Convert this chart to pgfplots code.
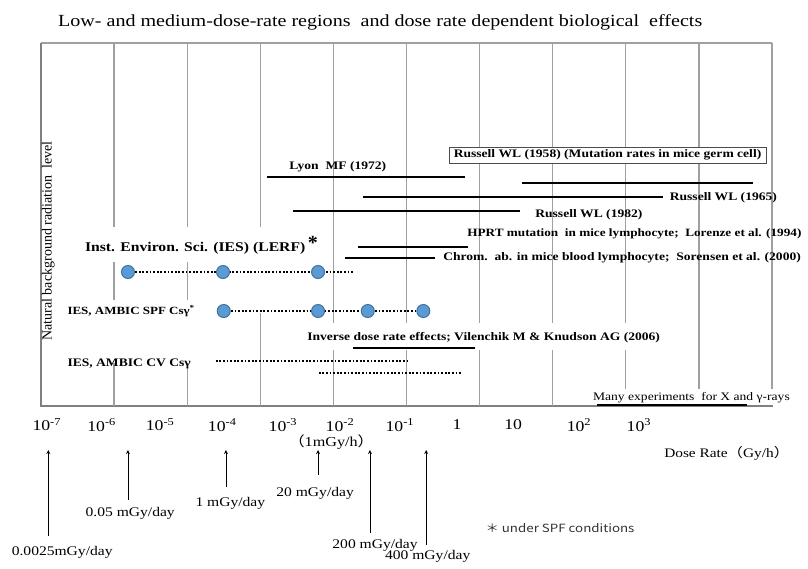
\documentclass[border=0pt]{standalone}
\usepackage{fontspec}
\setmainfont{Liberation Serif}
\newfontfamily\cjk{Noto Sans CJK JP}
\usepackage{pgfplots}
\pgfplotsset{compat=1.18}
\newcommand\fs[1]{\fontsize{#1}{#1}\selectfont}
\newcommand\sx[1]{\scalebox{1.18}[1]{#1}}
\definecolor{dotfill}{HTML}{5B9BD5}
\definecolor{dotedge}{HTML}{41719C}
\definecolor{gridc}{HTML}{A0A0A0}
\begin{document}
\begin{tikzpicture}
\begin{axis}[
  at={(41pt,-406pt)}, anchor=south west,
  width=731pt, height=363pt, scale only axis,
  xmin=-7, xmax=3, ymin=162, ymax=525,
  axis line style={draw=none},
  ytick=\empty,
  xtick={-6.92,-6.17,-5.37,-4.52,-3.69,-2.91,-2.09,-1.31,-0.54,0.36,1.18},
  xticklabels={\sx{10\textsuperscript{-7}},\sx{10\textsuperscript{-6}},\sx{10\textsuperscript{-5}},\sx{10\textsuperscript{-4}},\sx{10\textsuperscript{-3}},\sx{10\textsuperscript{-2}},\sx{10\textsuperscript{-1}},\sx{1},\sx{10},\sx{10\textsuperscript{2}},\sx{10\textsuperscript{3}}},
  major tick length=0pt,
  xticklabel style={font=\fs{15}, anchor=center, yshift=-19pt},
  clip=false,
]
% frame and grid
\draw[gridc, line width=1.3pt] (axis cs:-7,525) -- (axis cs:3,525);
\draw[gridc!80!black, line width=1.3pt] (axis cs:-7,525) -- (axis cs:-7,162) -- (axis cs:3.01,162);
\pgfplotsinvokeforeach{-6,-5}{
  \draw[gridc, line width=1.3pt] (axis cs:#1,525) -- (axis cs:#1,341);
  \draw[gridc, line width=1.3pt] (axis cs:#1,306) -- (axis cs:#1,268);
  \draw[gridc, line width=1.3pt] (axis cs:#1,205) -- (axis cs:#1,162);
}
\draw[gridc, line width=1.3pt] (axis cs:-4,525) -- (axis cs:-4,341);
\draw[gridc, line width=1.3pt] (axis cs:-4,255) -- (axis cs:-4,162);
\pgfplotsinvokeforeach{-3,-2,-1,0}{
  \draw[gridc, line width=1.3pt] (axis cs:#1,525) -- (axis cs:#1,245);
  \draw[gridc, line width=1.3pt] (axis cs:#1,218) -- (axis cs:#1,162);
}
\draw[gridc, line width=1.3pt] (axis cs:1,525) -- (axis cs:1,245);
\draw[gridc, line width=1.3pt] (axis cs:1,218) -- (axis cs:1,179);
\draw[gridc, line width=1.3pt] (axis cs:2,525) -- (axis cs:2,179);
\draw[gridc, line width=1.3pt] (axis cs:3,525) -- (axis cs:3,179);

% box label
\node[draw=black!70, fill=white, line width=0.8pt, minimum width=317pt, minimum height=16pt, inner sep=1pt, font=\fs{11.5}\bfseries] at (axis cs:0.75,413) {\sx{Russell WL (1958) (Mutation rates in mice germ cell)}};

% ranges
\addplot[black, line width=2.2pt] coordinates {(-3.91,391) (-1.20,391)};
\addplot[black, line width=2.2pt] coordinates {(-0.42,385) (2.74,385)};
\addplot[black, line width=2.2pt] coordinates {(-2.60,371) (1.51,371)};
\addplot[black, line width=2.2pt] coordinates {(-3.55,357) (-0.45,357)};
\addplot[black, line width=2.2pt] coordinates {(-2.66,321) (-1.16,321)};
\addplot[black, line width=2.2pt] coordinates {(-2.84,310) (-1.61,310)};
\addplot[black, line width=2.2pt] coordinates {(-2.73,220) (-1.06,220)};
\addplot[black, line width=2.2pt] coordinates {(0.61,163) (2.66,163)};
\addplot[black, line width=2pt, dash pattern=on 1.8pt off 1.8pt] coordinates {(-4.61,207) (-1.97,207)};
\addplot[black, line width=2pt, dash pattern=on 1.8pt off 1.8pt] coordinates {(-3.20,195) (-1.24,195)};
\addplot[black, line width=2pt, dash pattern=on 1.8pt off 1.8pt] coordinates {(-5.81,296) (-2.73,296)};
\addplot[black, line width=2pt, dash pattern=on 1.8pt off 1.8pt] coordinates {(-4.50,257) (-1.77,257)};
\addplot[only marks, mark=*, mark size=6.5pt, mark options={fill=dotfill, draw=dotedge, line width=1pt}] coordinates {(-5.81,296) (-4.51,296) (-3.21,296)};
\addplot[only marks, mark=*, mark size=6.5pt, mark options={fill=dotfill, draw=dotedge, line width=1pt}] coordinates {(-4.50,257) (-3.21,257) (-2.53,257) (-1.77,257)};

% labels
\node[font=\fs{11.5}\bfseries, inner sep=0pt] at (axis cs:-2.94,401) {\sx{Lyon\ \ MF (1972)}};
\node[font=\fs{11.5}\bfseries, inner sep=0pt, anchor=west] at (axis cs:1.60,370) {\sx{Russell WL (1965)}};
\node[font=\fs{11.5}\bfseries, inner sep=0pt, anchor=west] at (axis cs:-0.24,353) {\sx{Russell WL (1982)}};
\node[font=\fs{11.2}\bfseries, inner sep=0pt, anchor=west] at (axis cs:-1.17,334) {\sx{HPRT mutation\ \ in mice lymphocyte;\ \ Lorenze et al. (1994)}};
\node[font=\fs{11.5}\bfseries, inner sep=0pt, anchor=west] at (axis cs:-1.50,310) {\sx{Chrom.\ \ ab. in mice blood lymphocyte;\ \ Sorensen et al. (2000)}};
\node[font=\fs{13.3}\bfseries, inner sep=0pt, anchor=west] at (axis cs:-6.40,320) {\sx{Inst. Environ. Sci. (IES) (LERF)}};
\node[font=\fs{20}\bfseries, inner sep=0pt] at (axis cs:-3.28,325) {*};
\node[font=\fs{11}\bfseries, inner sep=0pt, anchor=west] at (axis cs:-6.64,257) {\sx{IES, AMBIC SPF Csγ\textsuperscript{*}}};
\node[font=\fs{11.5}\bfseries, inner sep=0pt, anchor=west] at (axis cs:-3.36,230) {\sx{Inverse dose rate effects; Vilenchik M \& Knudson AG (2006)}};
\node[font=\fs{11.5}\bfseries, inner sep=0pt, anchor=west] at (axis cs:-6.64,204) {\sx{IES, AMBIC CV Csγ}};
\node[font=\fs{11.5}, inner sep=0pt, anchor=west] at (axis cs:0.55,170) {\sx{Many experiments\ \ for X and γ-rays}};
\node[font=\fs{14}, rotate=90, inner sep=0pt] at (axis cs:-6.90,327) {Natural background radiation\ \ level};

% title and outside annotations
\node[font=\fs{17}] at (axis cs:-2.36,546) {\sx{Low- and medium-dose-rate regions\ \ and dose rate dependent biological\ \ effects}};
\node[font=\fs{13.7}] at (axis cs:-3.03,126) {\sx{{\cjk （}1mGy/h{\cjk ）}}};
\node[font=\fs{13}] at (axis cs:2.38,115) {\sx{Dose Rate{\cjk （}Gy/h{\cjk ）}}};
\node[font=\cjk\fs{11.3}, text=black!80] at (axis cs:0.10,40) {\sx{＊ under SPF conditions}};
\draw[-stealth, line width=0.8pt] (axis cs:-6.90,32) -- (axis cs:-6.90,118);
\draw[-stealth, line width=0.8pt] (axis cs:-5.81,68) -- (axis cs:-5.81,118);
\draw[-stealth, line width=0.8pt] (axis cs:-4.47,81) -- (axis cs:-4.47,118);
\draw[-stealth, line width=0.8pt] (axis cs:-3.21,93) -- (axis cs:-3.21,118);
\draw[-stealth, line width=0.8pt] (axis cs:-2.50,35) -- (axis cs:-2.50,118);
\draw[-stealth, line width=0.8pt] (axis cs:-1.73,23) -- (axis cs:-1.73,118);
\node[font=\fs{13.2}] at (axis cs:-6.71,16) {\sx{0.0025mGy/day}};
\node[font=\fs{13.2}] at (axis cs:-5.78,55) {\sx{0.05 mGy/day}};
\node[font=\fs{13.2}] at (axis cs:-4.41,65) {\sx{1 mGy/day}};
\node[font=\fs{13.2}] at (axis cs:-3.25,75) {\sx{20 mGy/day}};
\node[font=\fs{13.2}] at (axis cs:-2.43,23) {\sx{200 mGy/day}};
\node[font=\fs{13.2}] at (axis cs:-1.71,12) {\sx{400 mGy/day}};
\end{axis}
\pgfresetboundingbox
\useasboundingbox (0,0) rectangle (808pt,-568pt);
\end{tikzpicture}
\end{document}
